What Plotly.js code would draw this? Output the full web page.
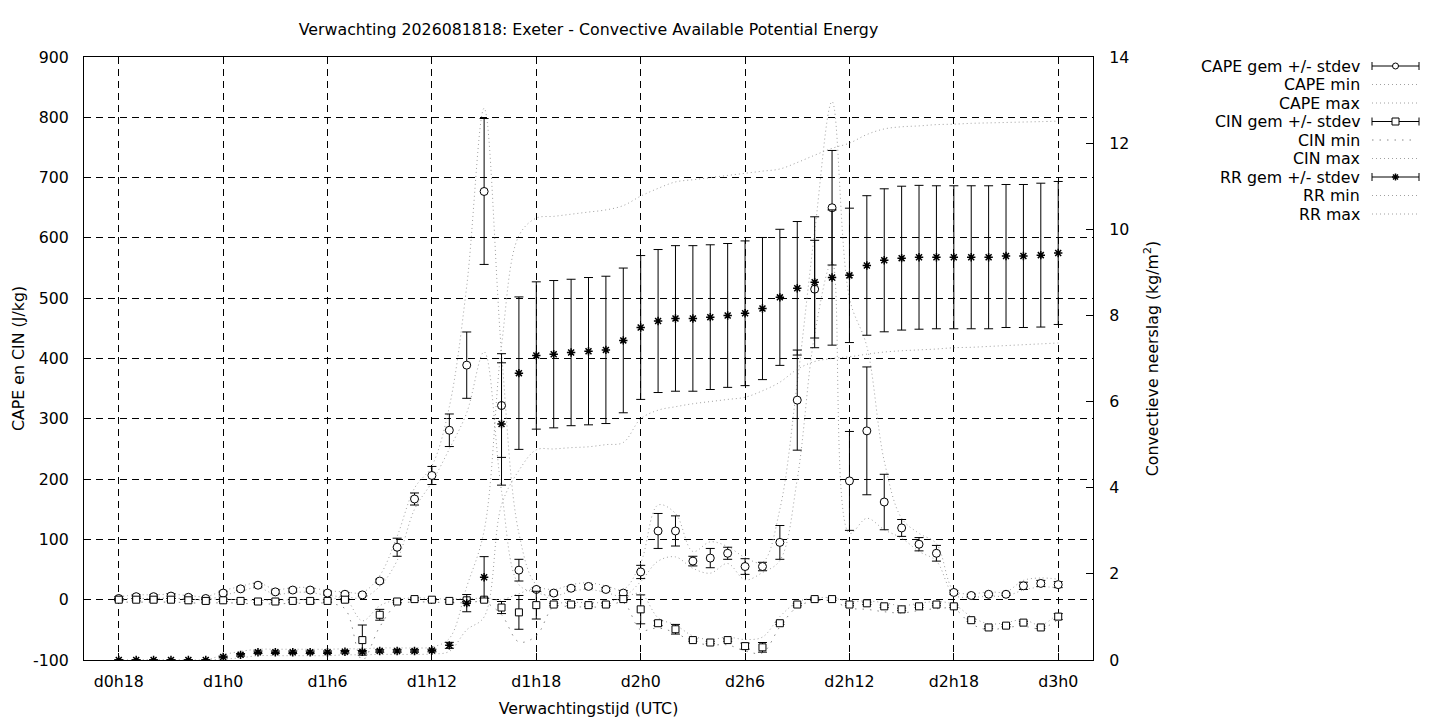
<!DOCTYPE html>
<html>
<head>
<meta charset="utf-8">
<script src="https://cdn.plot.ly/plotly-3.0.1.min.js"></script>
<style>html,body{margin:0;padding:0;background:#fff;}#chart{width:1440px;height:720px;}</style>
</head>
<body>
<div id="chart"></div>
<script>
// ---- data (forecast hour since d0h0) ----
const hours = [18,19,20,21,22,23,24,25,26,27,28,29,30,31,32,33,34,35,36,37,38,39,40,41,42,43,44,45,46,47,48,49,50,51,52,53,54,55,56,57,58,59,60,61,62,63,64,65,66,67,68,69,70,71,72];
const tickHours = [18,24,30,36,42,48,54,60,66,72];
const tickLabels = ['d0h18','d1h0','d1h6','d1h12','d1h18','d2h0','d2h6','d2h12','d2h18','d3h0'];
const yTickVals = [-100,0,100,200,300,400,500,600,700,800,900];
const yTickLabels = ['-100','0','100','200','300','400','500','600','700','800','900'];
const y2TickVals = [0,2,4,6,8,10,12,14];
const y2TickLabels = ['0','2','4','6','8','10','12','14'];

const capeMean = [2,5,5,6,4,2,11,18,24,13, 16,16,11,9,8,31,87,167,206,281, 389,677,322,49,17,11,19,22,17,11, 46,114,114,64,69,77,55,55,95,331, 515,650,197,280,162,119,92,77,12,7, 9,9,23,27,25];
const capeSd   = [3,3,3,4,3,2,3,3,3,3, 3,3,3,3,2,3,15,10,15,27, 55,121,86,18,3,3,3,3,3,4, 11,29,25,8,16,10,13,7,28,83, 81,95,82,106,46,14,11,13,3,2, 2,2,6,5,5];
const capeMin  = [0,2,2,3,1,0,7,14,20,9, 12,12,7,5,3,22,65,150,195,250, 310,411,180,25,12,6,14,17,12,6, 30,64,71,52,44,60,33,45,65,200, 440,560,110,135,116,102,80,64,8,4, 6,6,16,21,20];
const capeMax  = [5,8,8,9,7,5,15,22,28,17, 20,20,15,13,12,40,105,185,222,320, 520,815,410,110,25,17,25,28,23,17, 61,157,143,80,96,88,70,62,150,360, 610,826,500,420,230,135,110,93,15,10, 13,13,32,36,34];

const cinMean = [0,0,0,0,-1,-2,-1,-2,-3,-3, -2,-2,-2,0,-67,-25,-3,1,0,-2, -1,0,-13,-21,-9,-8,-8,-9,-8,1, -16,-39,-49,-67,-71,-67,-77,-79,-39,-8, 1,1,-8,-6,-11,-16,-11,-8,-11,-34, -46,-43,-38,-46,-28];
const cinSd   = [2,2,2,2,2,2,2,2,2,2, 2,2,2,2,25,9,2,2,2,2, 2,2,10,28,23,2,2,2,2,2, 24,4,8,2,2,2,5,8,2,2, 2,2,2,2,2,2,2,2,2,2, 2,2,2,2,5];
const cinMin  = [-4,-4,-4,-4,-5,-6,-5,-6,-7,-7, -6,-6,-6,-15,-100,-45,-8,-4,-4,-5, -5,-4,-25,-70,-60,-12,-12,-12,-12,-5, -50,-47,-55,-70,-75,-75,-85,-88,-45,-12, -2,-2,-14,-16,-20,-22,-18,-15,-15,-40, -50,-46,-44,-48,-33];
const cinMax  = [2,2,2,2,1,0,1,0,-1,-1, 0,0,0,2,-35,-10,0,3,2,1, 2,2,0,10,18,-4,-4,-5,-4,3, 10,-30,-42,-60,-66,-62,-66,-62,-28,-4, 3,3,-3,-2,-5,-10,-6,-3,-8,-28, -40,-38,-33,-42,-22];

const rrMean = [0,0,0,0,0,0,0.07,0.12,0.18,0.18, 0.18,0.18,0.18,0.19,0.19,0.21,0.21,0.21,0.22,0.34, 1.32,1.92,5.48,6.66,7.07,7.10,7.14,7.17,7.20,7.42, 7.72,7.87,7.93,7.93,7.96,8.00,8.05,8.16,8.42,8.63, 8.77,8.88,8.93,9.16,9.28,9.33,9.35,9.35,9.35,9.35, 9.35,9.38,9.38,9.40,9.45];
const rrSd   = [0,0,0,0,0,0,0.02,0.03,0.03,0.03, 0.03,0.03,0.03,0.03,0.03,0.03,0.03,0.03,0.03,0.07, 0.2,0.48,1.42,1.77,1.71,1.71,1.70,1.71,1.71,1.68, 1.67,1.66,1.69,1.69,1.68,1.67,1.68,1.65,1.58,1.55, 1.52,1.57,1.56,1.62,1.66,1.67,1.67,1.66,1.66,1.66, 1.66,1.66,1.66,1.67,1.66];
const rrMin  = [0,0,0,0,0,0,0.02,0.05,0.1,0.1, 0.1,0.1,0.1,0.12,0.12,0.13,0.13,0.13,0.14,0.2, 0.7,1.0,3.6,4.4,4.88,4.9,4.93,4.95,5.0,5.05, 5.6,5.8,5.88,5.95,6.0,6.05,6.1,6.25,6.45,6.75, 6.93,7.0,7.04,7.1,7.15,7.18,7.2,7.22,7.25,7.26, 7.28,7.3,7.32,7.34,7.36];
const rrMax  = [0,0,0,0,0,0,0.12,0.2,0.25,0.25, 0.25,0.25,0.25,0.26,0.26,0.28,0.28,0.28,0.3,0.5, 1.7,3.0,7.3,9.85,10.26,10.3,10.35,10.4,10.45,10.55, 10.77,10.95,11.1,11.15,11.2,11.25,11.3,11.35,11.4,11.55, 11.72,11.88,12.0,12.2,12.33,12.38,12.4,12.43,12.44,12.46, 12.47,12.48,12.49,12.5,12.51];

const legendNames = ['CAPE gem +/- stdev','CAPE min','CAPE max','CIN gem +/- stdev','CIN min','CIN max','RR gem +/- stdev','RR min','RR max'];

// ---- styles ----
const FONT = 'DejaVu Sans, Liberation Sans, sans-serif';
const FS = 15.8;
const GREY = '#a0a0a0';
const DOT = '1px,3px';
const CINMIN_COLOR = '#888888';
const CINMIN_DOT = '1.5px,6px';

function dotted(y, yaxis, dash, color) {
  return {x: hours, y: y, yaxis: yaxis, type: 'scatter', mode: 'lines',
    line: {shape: 'spline', smoothing: 1, dash: dash, color: color, width: 1},
    hoverinfo: 'skip', showlegend: false};
}
function errPts(y, sd, yaxis, symbol, size, fill, lw) {
  return {x: hours, y: y, yaxis: yaxis, type: 'scatter', mode: 'markers',
    marker: {symbol: symbol, size: size, color: fill, line: {color: '#000', width: lw}},
    error_y: {type: 'data', array: sd, symmetric: true, color: '#000', thickness: 1, width: 4.5},
    hoverinfo: 'skip', showlegend: false};
}

const traces = [
  dotted(capeMin, 'y', DOT, GREY),
  dotted(capeMax, 'y', DOT, GREY),
  dotted(cinMin, 'y', CINMIN_DOT, CINMIN_COLOR),
  dotted(cinMax, 'y', DOT, GREY),
  errPts(capeMean, capeSd, 'y', 'circle', 8, '#fff', 1),
  errPts(cinMean, cinSd, 'y', 'square', 7, '#fff', 1),
  dotted(rrMin, 'y2', DOT, GREY),
  dotted(rrMax, 'y2', DOT, GREY),
  errPts(rrMean, rrSd, 'y2', 'asterisk-open', 7, '#000', 1.5)
];

// ---- legend (gnuplot style: text right, sample to the right) ----
const L = 84, R = 1093, T = 57, B = 660;
const px2x = px => (px - L) / (R - L);
const px2y = py => (B - py) / (B - T);
const annotations = [];
const shapes = [];
const textRight = 1362, s0 = 1372, s1 = 1419, sm = 1395.5;
legendNames.forEach((name, i) => {
  const py = 66 + i * 18.5;
  annotations.push({text: name, xref: 'paper', yref: 'paper', x: px2x(textRight), y: px2y(py),
    xanchor: 'right', yanchor: 'middle', showarrow: false, font: {family: FONT, size: FS, color: '#000'}});
  const kind = i % 3;
  if (kind === 0) {
    const ln = {color: '#000', width: 1};
    shapes.push({type: 'line', xref: 'paper', yref: 'paper', x0: px2x(s0), x1: px2x(s1), y0: px2y(py), y1: px2y(py), line: ln});
    shapes.push({type: 'line', xref: 'paper', yref: 'paper', x0: px2x(s0), x1: px2x(s0), y0: px2y(py - 4), y1: px2y(py + 4), line: ln});
    shapes.push({type: 'line', xref: 'paper', yref: 'paper', x0: px2x(s1), x1: px2x(s1), y0: px2y(py - 4), y1: px2y(py + 4), line: ln});
    if (i === 0) {
      shapes.push({type: 'circle', xref: 'paper', yref: 'paper', x0: px2x(sm - 3), x1: px2x(sm + 3), y0: px2y(py - 3), y1: px2y(py + 3), fillcolor: '#fff', line: ln});
    } else if (i === 3) {
      shapes.push({type: 'rect', xref: 'paper', yref: 'paper', x0: px2x(sm - 3.5), x1: px2x(sm + 3.5), y0: px2y(py - 3.5), y1: px2y(py + 3.5), fillcolor: '#fff', line: ln});
    } else {
      const a = {color: '#000', width: 1.5};
      shapes.push({type: 'line', xref: 'paper', yref: 'paper', x0: px2x(sm - 3.5), x1: px2x(sm + 3.5), y0: px2y(py), y1: px2y(py), line: a});
      shapes.push({type: 'line', xref: 'paper', yref: 'paper', x0: px2x(sm), x1: px2x(sm), y0: px2y(py - 3.5), y1: px2y(py + 3.5), line: a});
      shapes.push({type: 'line', xref: 'paper', yref: 'paper', x0: px2x(sm - 2.5), x1: px2x(sm + 2.5), y0: px2y(py - 2.5), y1: px2y(py + 2.5), line: a});
      shapes.push({type: 'line', xref: 'paper', yref: 'paper', x0: px2x(sm - 2.5), x1: px2x(sm + 2.5), y0: px2y(py + 2.5), y1: px2y(py - 2.5), line: a});
    }
  } else {
    const isCinMin = (i === 4);
    shapes.push({type: 'line', xref: 'paper', yref: 'paper', x0: px2x(s0), x1: px2x(1417), y0: px2y(py), y1: px2y(py),
      line: {color: isCinMin ? CINMIN_COLOR : GREY, width: 1, dash: isCinMin ? CINMIN_DOT : DOT}});
  }
});

const tickFont = {family: FONT, size: FS, color: '#000'};
const layout = {
  width: 1440, height: 720, autosize: false,
  margin: {l: L, r: 1440 - R, t: T, b: 720 - B},
  paper_bgcolor: '#fff', plot_bgcolor: '#fff',
  showlegend: false,
  font: {family: FONT, size: FS, color: '#000'},
  title: {text: 'Verwachting 2026081818: Exeter - Convective Available Potential Energy',
    font: {family: FONT, size: FS, color: '#000'}, xref: 'paper', x: 0.5, xanchor: 'center',
    yref: 'container', y: 1 - 29 / 720, yanchor: 'middle'},
  xaxis: {range: [16, 74], tickmode: 'array', tickvals: tickHours, ticktext: tickLabels,
    ticks: 'inside', ticklen: 7, tickcolor: '#000', tickwidth: 1, ticklabelstandoff: 7,
    showgrid: true, gridcolor: '#000', gridwidth: 1, griddash: '7px,5px',
    showline: true, linecolor: '#000', linewidth: 1, mirror: 'ticks', zeroline: false,
    tickfont: tickFont,
    title: {text: 'Verwachtingstijd (UTC)', font: tickFont, standoff: 12}},
  yaxis: {range: [-100, 900], tickmode: 'array', tickvals: yTickVals, ticktext: yTickLabels,
    ticks: 'inside', ticklen: 7, tickcolor: '#000', tickwidth: 1, ticklabelstandoff: 11,
    showgrid: true, gridcolor: '#000', gridwidth: 1, griddash: '7px,5px',
    showline: true, linecolor: '#000', linewidth: 1, mirror: true, zeroline: false,
    tickfont: tickFont,
    title: {text: 'CAPE en CIN (J/kg)', font: tickFont, standoff: 4}},
  yaxis2: {range: [0, 14], tickmode: 'array', tickvals: y2TickVals, ticktext: y2TickLabels,
    overlaying: 'y', side: 'right',
    ticks: 'inside', ticklen: 7, tickcolor: '#000', tickwidth: 1, ticklabelstandoff: 12,
    showgrid: false, showline: true, linecolor: '#000', linewidth: 1, zeroline: false,
    tickfont: tickFont,
    title: {text: 'Convectieve neerslag (kg/m<sup>2</sup>)', font: tickFont, standoff: 18}},
  annotations: annotations,
  shapes: shapes
};

Plotly.newPlot('chart', traces, layout, {staticPlot: true, displayModeBar: false});
</script>
</body>
</html>
